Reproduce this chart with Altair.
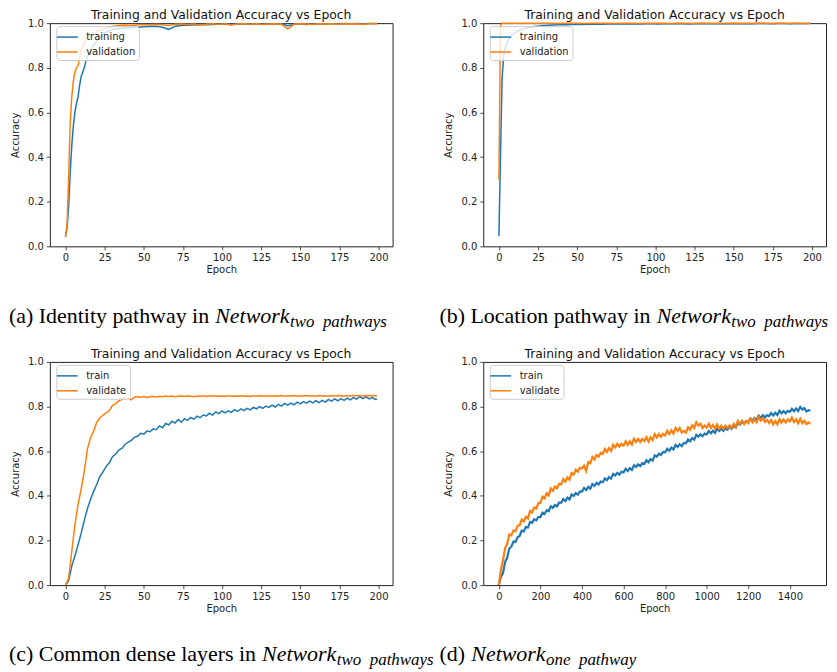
import altair as alt
import pandas as pd

TITLE = "Training and Validation Accuracy vs Epoch"
BLUE = "#1f77b4"
ORANGE = "#ff7f0e"

# ---------------- (a) and (b): 200 epochs ----------------
epochs_ab = list(range(31)) + list(range(34, 199, 4)) + [199]

a_train = [0.045, 0.08, 0.18, 0.33, 0.45, 0.54, 0.60, 0.64, 0.67, 0.72, 0.76, 0.78, 0.80, 0.83, 0.85, 0.86,
           0.87, 0.89, 0.90, 0.91, 0.92, 0.93, 0.935, 0.94, 0.95, 0.955, 0.96, 0.965, 0.968, 0.97, 0.972,
           0.975, 0.978, 0.98, 0.982, 0.984, 0.985, 0.986, 0.982, 0.972, 0.986,
           0.99, 0.991, 0.992, 0.993, 0.993, 0.994, 0.995, 0.995, 0.994, 0.996,
           0.995, 0.996, 0.996, 0.995, 0.997, 0.996, 0.997, 0.988, 0.995, 0.996,
           0.994, 0.996, 0.997, 0.996, 0.997, 0.997, 0.998, 0.997, 0.998, 0.997, 0.998, 0.998,
           0.998]
a_val = [0.04, 0.10, 0.30, 0.55, 0.67, 0.74, 0.78, 0.80, 0.81, 0.84, 0.88, 0.90, 0.91, 0.925, 0.935, 0.94,
         0.945, 0.95, 0.955, 0.96, 0.962, 0.965, 0.968, 0.97, 0.975, 0.975, 0.978, 0.98, 0.982, 0.984, 0.985,
         0.99, 0.992, 0.99, 0.993, 0.994, 0.992, 0.995, 0.993, 0.99, 0.995,
         0.996, 0.994, 0.996, 0.992, 0.995, 0.997, 0.994, 0.997, 0.992, 0.996,
         0.997, 0.995, 0.997, 0.994, 0.996, 0.997, 0.995, 0.975, 0.995, 0.997,
         0.996, 0.994, 0.997, 0.996, 0.997, 0.995, 0.997, 0.996, 0.997, 0.994, 0.997, 0.997,
         0.997]

b_train = [0.045, 0.40, 0.75, 0.85, 0.89, 0.91, 0.925, 0.935, 0.945, 0.95, 0.955, 0.96, 0.965, 0.968, 0.97,
           0.972, 0.975, 0.977, 0.978, 0.98, 0.982, 0.983, 0.984, 0.985, 0.986, 0.986, 0.987, 0.988, 0.989,
           0.99, 0.99,
           0.992, 0.993, 0.993, 0.994, 0.995, 0.994, 0.995, 0.996, 0.995, 0.996,
           0.996, 0.997, 0.996, 0.997, 0.996, 0.997, 0.997, 0.996, 0.997, 0.997,
           0.998, 0.997, 0.996, 0.997, 0.998, 0.997, 0.997, 0.998, 0.997, 0.998,
           0.997, 0.998, 0.997, 0.998, 0.998, 0.997, 0.998, 0.998, 0.997, 0.998, 0.998, 0.998,
           0.998]
b_val = [0.30, 0.99, 1.0, 1.0, 1.0, 1.0, 1.0, 1.0, 0.999, 1.0, 1.0, 1.0, 1.0, 1.0, 1.0, 0.999,
         1.0, 1.0, 1.0, 1.0, 1.0, 1.0, 1.0, 0.999, 1.0, 1.0, 1.0, 1.0, 1.0, 1.0, 1.0,
         1.0, 0.999, 1.0, 1.0, 1.0, 0.998, 1.0, 1.0, 1.0, 1.0,
         0.999, 1.0, 1.0, 1.0, 0.998, 1.0, 1.0, 1.0, 1.0, 0.999,
         1.0, 1.0, 0.998, 1.0, 1.0, 1.0, 1.0, 0.999, 1.0, 1.0,
         1.0, 0.998, 1.0, 1.0, 1.0, 0.999, 1.0, 1.0, 1.0, 1.0, 0.999, 1.0,
         1.0]

# ---------------- (c): 200 epochs ----------------
epochs_c = list(range(0, 200, 2)) + [199]
c_train = [0.000, 0.020, 0.085, 0.130, 0.180, 0.232, 0.290, 0.342, 0.385, 0.420,
           0.452, 0.488, 0.507, 0.532, 0.548, 0.575, 0.586, 0.605, 0.612, 0.630,
           0.640, 0.648, 0.662, 0.667, 0.680, 0.676, 0.690, 0.687, 0.700, 0.696,
           0.713, 0.705, 0.724, 0.718, 0.734, 0.726, 0.742, 0.730, 0.746, 0.738,
           0.751, 0.744, 0.757, 0.750, 0.762, 0.758, 0.770, 0.762, 0.776, 0.768,
           0.780, 0.772, 0.781, 0.774, 0.786, 0.778, 0.790, 0.782, 0.792, 0.785,
           0.796, 0.790, 0.800, 0.792, 0.802, 0.796, 0.806, 0.798, 0.810, 0.802,
           0.814, 0.806, 0.815, 0.808, 0.820, 0.812, 0.822, 0.815, 0.824, 0.816,
           0.826, 0.818, 0.828, 0.820, 0.832, 0.824, 0.834, 0.826, 0.836, 0.828,
           0.838, 0.830, 0.840, 0.833, 0.844, 0.835, 0.843, 0.834, 0.840, 0.832,
           0.834]
c_val = [0.000, 0.030, 0.150, 0.270, 0.360, 0.430, 0.510, 0.610, 0.660, 0.690,
         0.730, 0.750, 0.762, 0.772, 0.782, 0.805, 0.812, 0.825, 0.832, 0.836,
         0.838, 0.830, 0.842, 0.845, 0.841, 0.846, 0.840, 0.844, 0.846, 0.843,
         0.846, 0.844, 0.847, 0.845, 0.847, 0.844, 0.846, 0.847, 0.845, 0.847,
         0.846, 0.844, 0.847, 0.846, 0.848, 0.845, 0.848, 0.846, 0.848, 0.846,
         0.847, 0.845, 0.848, 0.846, 0.847, 0.846, 0.848, 0.846, 0.847, 0.845,
         0.848, 0.846, 0.848, 0.847, 0.846, 0.848, 0.846, 0.848, 0.847, 0.849,
         0.846, 0.848, 0.847, 0.849, 0.846, 0.848, 0.847, 0.849, 0.847, 0.848,
         0.846, 0.849, 0.847, 0.848, 0.846, 0.849, 0.847, 0.849, 0.848, 0.846,
         0.849, 0.847, 0.849, 0.848, 0.850, 0.847, 0.849, 0.848, 0.849, 0.847,
         0.848]

# ---------------- (d): 1500 epochs (every 10th) ----------------
epochs_d = list(range(0, 1500, 10)) + [1499]
d_train = [0.000, 0.037, 0.054, 0.104, 0.122, 0.164, 0.172, 0.195, 0.193, 0.214,
           0.220, 0.244, 0.241, 0.260, 0.258, 0.283, 0.279, 0.295, 0.290, 0.305,
           0.305, 0.325, 0.319, 0.336, 0.331, 0.353, 0.346, 0.359, 0.353, 0.370,
           0.369, 0.386, 0.377, 0.392, 0.384, 0.406, 0.399, 0.412, 0.405, 0.420,
           0.419, 0.435, 0.426, 0.440, 0.432, 0.453, 0.445, 0.458, 0.451, 0.464,
           0.461, 0.478, 0.470, 0.484, 0.477, 0.498, 0.491, 0.503, 0.495, 0.508,
           0.505, 0.521, 0.511, 0.524, 0.516, 0.537, 0.529, 0.541, 0.533, 0.546,
           0.543, 0.559, 0.550, 0.565, 0.558, 0.581, 0.575, 0.589, 0.583, 0.597,
           0.595, 0.611, 0.602, 0.616, 0.608, 0.628, 0.619, 0.631, 0.623, 0.637,
           0.635, 0.652, 0.644, 0.659, 0.652, 0.673, 0.665, 0.676, 0.667, 0.679,
           0.675, 0.690, 0.680, 0.692, 0.682, 0.701, 0.691, 0.701, 0.691, 0.702,
           0.697, 0.711, 0.700, 0.714, 0.706, 0.727, 0.719, 0.731, 0.723, 0.735,
           0.731, 0.746, 0.736, 0.749, 0.740, 0.759, 0.750, 0.761, 0.751, 0.762,
           0.757, 0.771, 0.760, 0.772, 0.762, 0.781, 0.770, 0.780, 0.770, 0.781,
           0.776, 0.790, 0.779, 0.791, 0.780, 0.798, 0.787, 0.793, 0.778, 0.784,
           0.781]
d_val = [0.000, 0.070, 0.112, 0.166, 0.184, 0.227, 0.223, 0.245, 0.241, 0.265,
         0.268, 0.294, 0.285, 0.306, 0.299, 0.332, 0.325, 0.348, 0.343, 0.367,
         0.369, 0.396, 0.388, 0.411, 0.402, 0.433, 0.423, 0.442, 0.434, 0.454,
         0.451, 0.475, 0.463, 0.483, 0.472, 0.502, 0.495, 0.517, 0.508, 0.526,
         0.523, 0.535, 0.512, 0.551, 0.546, 0.574, 0.563, 0.583, 0.575, 0.593,
         0.588, 0.610, 0.597, 0.614, 0.601, 0.629, 0.617, 0.633, 0.620, 0.633,
         0.625, 0.644, 0.628, 0.644, 0.630, 0.656, 0.641, 0.655, 0.641, 0.655,
         0.646, 0.662, 0.643, 0.662, 0.650, 0.676, 0.662, 0.677, 0.664, 0.678,
         0.670, 0.691, 0.677, 0.694, 0.679, 0.704, 0.690, 0.704, 0.684, 0.691,
         0.683, 0.707, 0.696, 0.716, 0.704, 0.730, 0.715, 0.723, 0.704, 0.715,
         0.706, 0.723, 0.704, 0.718, 0.700, 0.720, 0.701, 0.714, 0.700, 0.714,
         0.705, 0.715, 0.704, 0.722, 0.709, 0.736, 0.722, 0.736, 0.722, 0.735,
         0.726, 0.745, 0.729, 0.744, 0.729, 0.753, 0.737, 0.748, 0.731, 0.740,
         0.726, 0.740, 0.720, 0.735, 0.720, 0.744, 0.728, 0.742, 0.728, 0.742,
         0.733, 0.751, 0.731, 0.743, 0.725, 0.745, 0.725, 0.736, 0.721, 0.729,
         0.722]

W, H = 344, 224
Y_TICKS = [0.0, 0.2, 0.4, 0.6, 0.8, 1.0]
SERIF = "Liberation Serif"


def caption(parts):
    layers = []
    for text, x, y, size, style in parts:
        layers.append(
            alt.Chart(pd.DataFrame({"t": [text]}))
            .mark_text(align="left", baseline="alphabetic", font=SERIF, fontSize=size,
                       fontStyle=style, color="black")
            .encode(x=alt.value(x), y=alt.value(y), text="t:N")
        )
    return layers


def panel(epochs, tr, va, names, xticks, xdomain, cap_parts, sw=1.5):
    n = len(epochs)
    df = pd.DataFrame({
        "Epoch": list(epochs) * 2,
        "Accuracy": list(tr) + list(va),
        "series": [names[0]] * n + [names[1]] * n,
    })
    lines = alt.Chart(df).mark_line(strokeWidth=sw).encode(
        x=alt.X("Epoch:Q", scale=alt.Scale(domain=xdomain, nice=False, zero=False),
                axis=alt.Axis(values=xticks, format="d", title="Epoch")),
        y=alt.Y("Accuracy:Q", scale=alt.Scale(domain=[0, 1], nice=False),
                axis=alt.Axis(values=Y_TICKS, format=".1f", title="Accuracy")),
        color=alt.Color("series:N", scale=alt.Scale(domain=names, range=[BLUE, ORANGE]),
                        legend=alt.Legend(title=None, orient="none", legendX=6.5, legendY=3)),
    )
    return alt.layer(lines, *caption(cap_parts)).properties(
        width=W, height=H, title=alt.TitleParams(TITLE, offset=-3)
    )


CY = 301
pa = panel(epochs_ab, a_train, a_val, ["training", "validation"], list(range(0, 201, 25)), [-10, 209],
           [("(a) Identity pathway in", -41, CY, 22, "normal"),
            ("Network", 166, CY, 22, "italic"),
            ("two\u00a0 pathways", 241, CY + 4, 17, "italic")])
pb = panel(epochs_ab, b_train, b_val, ["training", "validation"], list(range(0, 201, 25)), [-10, 209],
           [("(b) Location pathway in", -44, CY, 22, "normal"),
            ("Network", 174, CY, 22, "italic"),
            ("two\u00a0 pathways", 249, CY + 4, 17, "italic")])
pc = panel(epochs_c, c_train, c_val, ["train", "validate"], list(range(0, 201, 25)), [-10, 209],
           [("(c) Common dense layers in", -41, CY - 1, 22, "normal"),
            ("Network", 213, CY - 1, 22, "italic"),
            ("two\u00a0 pathways", 288, CY + 3, 17, "italic")])
pd_ = panel(epochs_d, d_train, d_val, ["train", "validate"], list(range(0, 1401, 200)), [-75, 1574],
            [("(d)", -44, CY - 1, 22, "normal"),
             ("Network", -12, CY - 1, 22, "italic"),
             ("one\u00a0 pathway", 63, CY + 3, 17, "italic")], sw=2.2)

chart = alt.concat(
    pa, pb, pc, pd_, columns=2, spacing={"row": 116, "column": 91}, bounds="flush"
).resolve_scale(color="independent").properties(
    padding={"top": -1, "left": 0, "right": 0, "bottom": 0}
).configure_view(
    stroke="#222", strokeWidth=1
).configure_axis(
    labelFont="DejaVu Sans", labelFontSize=10, labelColor="#222", labelPadding=3,
    titleFont="DejaVu Sans", titleFontSize=10, titleFontWeight="normal", titleColor="#222",
    tickColor="#222", tickSize=3.5, tickWidth=0.8, domain=False, grid=False,
    labelFlush=False, labelOverlap=False
).configure_axisX(
    titlePadding=2
).configure_axisY(
    titlePadding=7
).configure_title(
    font="DejaVu Sans", fontSize=12.4, fontWeight="normal", color="#111", anchor="middle"
).configure_legend(
    labelFont="DejaVu Sans", labelFontSize=10, labelColor="#222",
    symbolType="M-1.5,0H1.5", symbolStrokeWidth=1.5, symbolSize=196,
    padding=3, fillColor="rgba(255,255,255,0.8)", strokeColor="#cccccc", cornerRadius=3,
    rowPadding=2, labelOffset=11
)

chart.save("out.html", embed_options={"renderer": "svg", "actions": False})
